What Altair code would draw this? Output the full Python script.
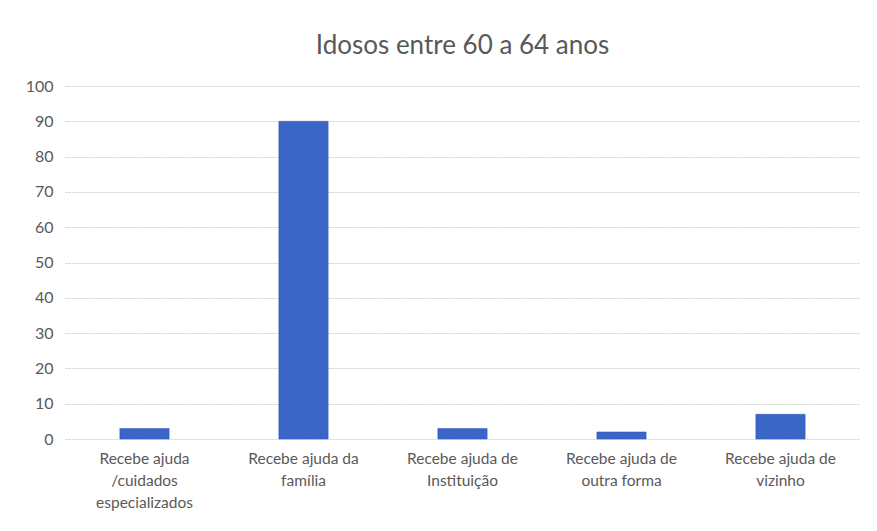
import altair as alt
import pandas as pd

categories = [
    "Recebe ajuda /cuidados especializados",
    "Recebe ajuda da família",
    "Recebe ajuda de Instituição",
    "Recebe ajuda de outra forma",
    "Recebe ajuda de vizinho",
]
label_lines = [
    ["Recebe ajuda", "/cuidados", "especializados"],
    ["Recebe ajuda da", "família"],
    ["Recebe ajuda de", "Instituição"],
    ["Recebe ajuda de", "outra forma"],
    ["Recebe ajuda de", "vizinho"],
]
values = [3, 90, 3, 2, 7]
y_ticks = list(range(0, 101, 10))

df = pd.DataFrame({"cat": categories, "value": values})

label_map = "{" + ",".join(
    '"%s": [%s]' % (c, ",".join('"%s"' % l for l in ls))
    for c, ls in zip(categories, label_lines)
) + "}"

FONT = "Lato"
GRAY = "#595959"

chart = alt.Chart(df).mark_bar(color="#3A66C8", stroke="#2F56B0", strokeWidth=0.5).encode(
    x=alt.X("cat:N", sort=categories, title=None,
            scale=alt.Scale(paddingInner=0.69, paddingOuter=0.345),
            axis=alt.Axis(labelAngle=0, domain=False, ticks=False, grid=False,
                          labelExpr=label_map + "[datum.label]",
                          labelPadding=12, labelFontSize=15.5, labelColor=GRAY,
                          labelFont=FONT, labelLineHeight=22, labelLimit=200)),
    y=alt.Y("value:Q", title=None,
            scale=alt.Scale(domain=[0, 100], nice=False),
            axis=alt.Axis(values=y_ticks, domain=False, ticks=False,
                          labelPadding=12, labelFontSize=16, labelColor=GRAY,
                          labelFont=FONT, grid=True, gridColor="#D0D0D0",
                          gridDash=[2, 1], gridWidth=1)),
).properties(
    width=795, height=353,
    title=alt.TitleParams("Idosos entre 60 a 64 anos", fontSize=26, font=FONT,
                          color=GRAY, fontWeight="normal", offset=19),
    autosize=alt.AutoSizeParams(type="none"),
    padding={"left": 57, "top": 78, "right": 9, "bottom": 84},
).configure(background="white").configure_view(strokeWidth=0, stroke="transparent")

chart.save("out.html", embed_options={"renderer": "svg", "actions": False})
